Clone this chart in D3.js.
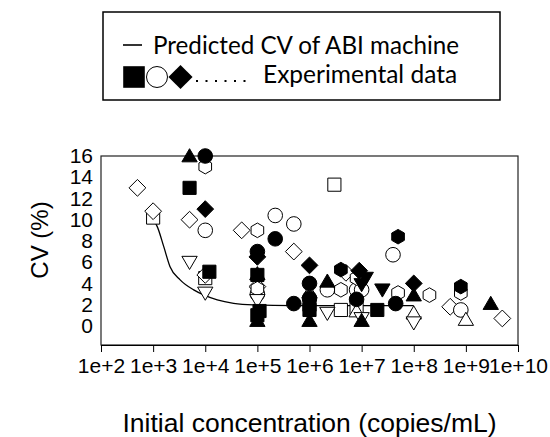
<!DOCTYPE html>
<html>
<head>
<meta charset="utf-8">
<script src="https://d3js.org/d3.v7.min.js"></script>
<style>
  html, body { margin: 0; padding: 0; background: #fff; }
  svg { display: block; }
  .axis text { font-family: "Liberation Sans", Arial, sans-serif; font-size: 21px; fill: #000; }
  .axis path, .axis line { stroke: #000; }
</style>
</head>
<body>
<div id="chart"></div>
<script>
  // predicted CV curve
  var curveX = [1e3, 1.2e3, 1.6e3, 2.1e3, 3.3e3, 6e3, 9.3e3, 1.7e4, 3.5e4, 8.3e4, 5e5, 1e8];
  var curveY = [10.0, 9.35, 7.46, 5.6, 4.33, 3.39, 2.92, 2.45, 2.13, 1.98, 1.91, 1.9];

  // experimental data, one array per marker
  var filledSquare  = [[5e3, 13], [1.2e4, 5.1], [1e5, 4.8], [1.1e5, 1.4], [1e5, 1.0], [1e6, 2.0], [1e6, 1.5], [2e7, 1.5]];
  var openCircle    = [[1e4, 9.0], [2.2e5, 10.4], [5e5, 9.6], [1e5, 3.0], [2.2e6, 3.4], [8e6, 3.4], [1e7, 3.4], [4e7, 6.7], [8e8, 1.5]];
  var filledDiamond = [[1e4, 11], [1e5, 6.5], [1e6, 5.7], [9e6, 5.2], [1e8, 4.0]];
  var openDiamond   = [[5e2, 13], [1e3, 10.8], [5e3, 10], [1e4, 4.8], [5e4, 9], [5e5, 7], [1e5, 3.7], [5e6, 5.0], [5e8, 1.8], [5e9, 0.7]];
  var filledCircle  = [[1e4, 16], [1e5, 7.0], [2.2e5, 8.2], [5e5, 2.1], [1e6, 4.0], [1e6, 2.6], [8e6, 2.5], [4.5e7, 2.1]];
  var openHexagon   = [[1e4, 15], [1e5, 9], [1e5, 3.5], [4e6, 3.4], [8e6, 4.5], [5e7, 3.1], [2e8, 2.9], [8e8, 3.1]];
  var filledHexagon = [[5e7, 8.4], [4e6, 5.3], [8e8, 3.7]];
  var openTriUp     = [[1e6, 3.2], [8e6, 1.4], [1e8, 1.2], [1e9, 0.6]];
  var filledTriUp   = [[5e3, 16], [1e5, 4.9], [1e5, 0.5], [1e6, 0.5], [2.2e6, 4.2], [1e7, 0.5], [1e8, 2.9], [3e9, 2.1]];
  var openTriDown   = [[5e3, 6], [1e4, 3.1], [1e5, 2.4], [2.2e6, 1.2], [1e7, 0.7], [1e8, 0.3]];
  var filledTriDown = [[1.2e7, 4.5], [2.5e7, 3.4], [1e7, 3.9]];
  var openSquare    = [[1e3, 10.2], [3e6, 13.3], [1e4, 4.5], [4e6, 1.5], [8e6, 1.7]];

  var xTicks = [1e2, 1e3, 1e4, 1e5, 1e6, 1e7, 1e8, 1e9, 1e10];
  var yTicks = [0, 2, 4, 6, 8, 10, 12, 14, 16];

  var width = 550, height = 437;
  var plot = { left: 101, top: 156, right: 518, bottom: 345 };

  var svg = d3.select("#chart").append("svg")
    .attr("width", width)
    .attr("height", height);

  var x = d3.scaleLog().domain([1e2, 1e10]).range([plot.left, plot.right]);
  var y = d3.scaleLinear().domain([-1.8, 16]).range([plot.bottom, plot.top]);

  // frame
  svg.append("rect")
    .attr("x", plot.left).attr("y", plot.top)
    .attr("width", plot.right - plot.left)
    .attr("height", plot.bottom - plot.top)
    .attr("fill", "none").attr("stroke", "#222").attr("stroke-width", 1.2);

  var xAxis = d3.axisBottom(x).tickValues(xTicks).tickSizeInner(7).tickSizeOuter(0).tickPadding(6)
    .tickFormat(function (d) { return "1e+" + Math.round(Math.log10(d)); });
  svg.append("g").attr("class", "axis")
    .attr("transform", "translate(0," + plot.bottom + ")")
    .call(xAxis);

  var yAxis = d3.axisLeft(y).tickValues(yTicks).tickSize(0).tickPadding(8);
  svg.append("g").attr("class", "axis")
    .attr("transform", "translate(" + plot.left + ",0)")
    .call(yAxis)
    .select(".domain").remove();

  // axis titles
  svg.append("text")
    .attr("x", (plot.left + plot.right) / 2).attr("y", 432)
    .attr("text-anchor", "middle")
    .style("font-family", "'Liberation Sans', Arial, sans-serif").style("font-size", "26.5px")
    .text("Initial concentration (copies/mL)");
  svg.append("text")
    .attr("transform", "translate(48,240) rotate(-90)")
    .attr("text-anchor", "middle")
    .style("font-family", "'Liberation Sans', Arial, sans-serif").style("font-size", "24px")
    .text("CV (%)");

  // predicted curve
  var line = d3.line()
    .x(function (d) { return x(d[0]); })
    .y(function (d) { return y(d[1]); })
    .curve(d3.curveMonotoneX);
  svg.append("path")
    .datum(d3.zip(curveX, curveY))
    .attr("d", line)
    .attr("fill", "none").attr("stroke", "#000").attr("stroke-width", 1.3);

  // marker shapes
  function shape(kind, r) {
    var p = d3.path();
    if (kind === "circle") { p.arc(0, 0, r, 0, 2 * Math.PI); return p.toString(); }
    var pts;
    if (kind === "square") pts = [[-r * 0.9, -r * 0.9], [r * 0.9, -r * 0.9], [r * 0.9, r * 0.9], [-r * 0.9, r * 0.9]];
    if (kind === "diamond") pts = [[0, -r * 1.15], [r * 1.15, 0], [0, r * 1.15], [-r * 1.15, 0]];
    if (kind === "triUp") pts = [[0, -r], [r * 1.05, r * 0.8], [-r * 1.05, r * 0.8]];
    if (kind === "triDown") pts = [[0, r], [r * 1.05, -r * 0.8], [-r * 1.05, -r * 0.8]];
    if (kind === "hexagon") pts = d3.range(6).map(function (i) {
      var a = Math.PI / 6 + i * Math.PI / 3;
      return [r * Math.cos(a), r * Math.sin(a)];
    });
    p.moveTo(pts[0][0], pts[0][1]);
    pts.slice(1).forEach(function (q) { p.lineTo(q[0], q[1]); });
    p.closePath();
    return p.toString();
  }

  var series = [
    { data: openSquare, kind: "square", fill: "#fff" },
    { data: openDiamond, kind: "diamond", fill: "#fff" },
    { data: openCircle, kind: "circle", fill: "#fff" },
    { data: openHexagon, kind: "hexagon", fill: "#fff" },
    { data: openTriUp, kind: "triUp", fill: "#fff" },
    { data: openTriDown, kind: "triDown", fill: "#fff" },
    { data: filledSquare, kind: "square", fill: "#000" },
    { data: filledCircle, kind: "circle", fill: "#000" },
    { data: filledDiamond, kind: "diamond", fill: "#000" },
    { data: filledHexagon, kind: "hexagon", fill: "#000" },
    { data: filledTriUp, kind: "triUp", fill: "#000" },
    { data: filledTriDown, kind: "triDown", fill: "#000" }
  ];

  series.forEach(function (s) {
    svg.append("g").selectAll("path")
      .data(s.data)
      .join("path")
      .attr("transform", function (d) { return "translate(" + x(d[0]) + "," + y(d[1]) + ")"; })
      .attr("d", shape(s.kind, 7.3))
      .attr("fill", s.fill)
      .attr("stroke", "#000")
      .attr("stroke-width", 1);
  });

  // legend box
  var lg = svg.append("g");
  lg.append("rect")
    .attr("x", 103).attr("y", 12).attr("width", 397).attr("height", 88)
    .attr("fill", "#fff").attr("stroke", "#000").attr("stroke-width", 1.5);

  var legendFont = "Lato, 'Open Sans', sans-serif";
  lg.append("line")
    .attr("x1", 123).attr("x2", 142).attr("y1", 45).attr("y2", 45)
    .attr("stroke", "#000").attr("stroke-width", 1.6);
  lg.append("text")
    .attr("x", 153).attr("y", 54)
    .style("font-family", legendFont).style("font-size", "24.2px")
    .text("Predicted CV of ABI machine");

  lg.append("path").attr("transform", "translate(134,77)").attr("d", shape("square", 12))
    .attr("fill", "#000");
  lg.append("path").attr("transform", "translate(157,77)").attr("d", shape("circle", 10.5))
    .attr("fill", "#fff").attr("stroke", "#000").attr("stroke-width", 1);
  lg.append("path").attr("transform", "translate(180.5,77)").attr("d", shape("diamond", 10.5))
    .attr("fill", "#000");
  lg.append("line")
    .attr("x1", 196).attr("x2", 252).attr("y1", 81).attr("y2", 81)
    .attr("stroke", "#000").attr("stroke-width", 2).attr("stroke-dasharray", "2,7.5");
  lg.append("text")
    .attr("x", 263).attr("y", 83)
    .style("font-family", legendFont).style("font-size", "24.5px")
    .text("Experimental data");
</script>
</body>
</html>
